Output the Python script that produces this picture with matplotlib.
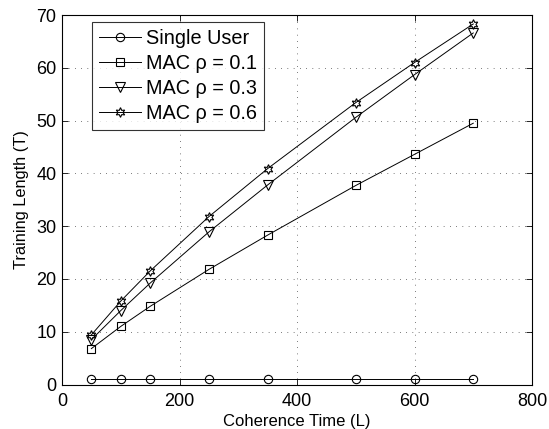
import matplotlib
matplotlib.use("Agg")
import matplotlib.pyplot as plt

plt.rcParams['font.family'] = ['Liberation Sans', 'DejaVu Sans']

coherence_time = [50, 100, 150, 250, 350, 500, 600, 700]
single_user = [1, 1, 1, 1, 1, 1, 1, 1]
mac_01 = [6.8, 11.0, 14.8, 21.8, 28.3, 37.7, 43.6, 49.5]
mac_03 = [8.5, 14.0, 19.2, 28.9, 37.8, 50.6, 58.7, 66.6]
mac_06 = [9.4, 15.8, 21.5, 31.8, 40.9, 53.4, 61.0, 68.3]
labels = ['Single User', 'MAC ρ = 0.1', 'MAC ρ = 0.3', 'MAC ρ = 0.6']

fig = plt.figure(figsize=(5.49, 4.29), dpi=100)
ax = fig.add_axes([62/549, 1-384.5/429, (532-62)/549, (384.5-15)/429])

common = dict(color='black', lw=0.7, mfc='none', mec='black', mew=0.8)
ax.plot(coherence_time, single_user, marker='o', ms=6, label=labels[0], **common)
ax.plot(coherence_time, mac_01, marker='s', ms=5.5, label=labels[1], **common)
ax.plot(coherence_time, mac_03, marker='v', ms=6.5, label=labels[2], **common)
ax.plot(coherence_time, mac_06, marker=(6, 1, 0), ms=7, label=labels[3], **common)

ax.set_xlim(0, 800)
ax.set_ylim(0, 70)
ax.set_xticks([0, 200, 400, 600, 800])
ax.set_yticks([0, 10, 20, 30, 40, 50, 60, 70])
ax.grid(True, color='black', linestyle=(0, (1, 8)), linewidth=0.5)
ax.tick_params(direction='in', top=True, right=True, labelsize=13, length=4,
               width=0.6)
ax.tick_params(axis='x', pad=6)
ax.tick_params(axis='y', pad=4)
for s in ax.spines.values():
    s.set_linewidth(0.8)

ax.set_xlabel('Coherence Time (L)', fontsize=12, labelpad=3)
ax.set_ylabel('Training Length (T)', fontsize=11.8, labelpad=5)

leg = ax.legend(loc='upper left', bbox_to_anchor=(0.064, 0.981), fontsize=14.3,
                frameon=True, fancybox=False, edgecolor='black', handlelength=2.1,
                handletextpad=0.25, borderpad=0.35, labelspacing=0.3, borderaxespad=0)
leg.get_frame().set_linewidth(0.8)

fig.savefig('out.png', dpi=100)
